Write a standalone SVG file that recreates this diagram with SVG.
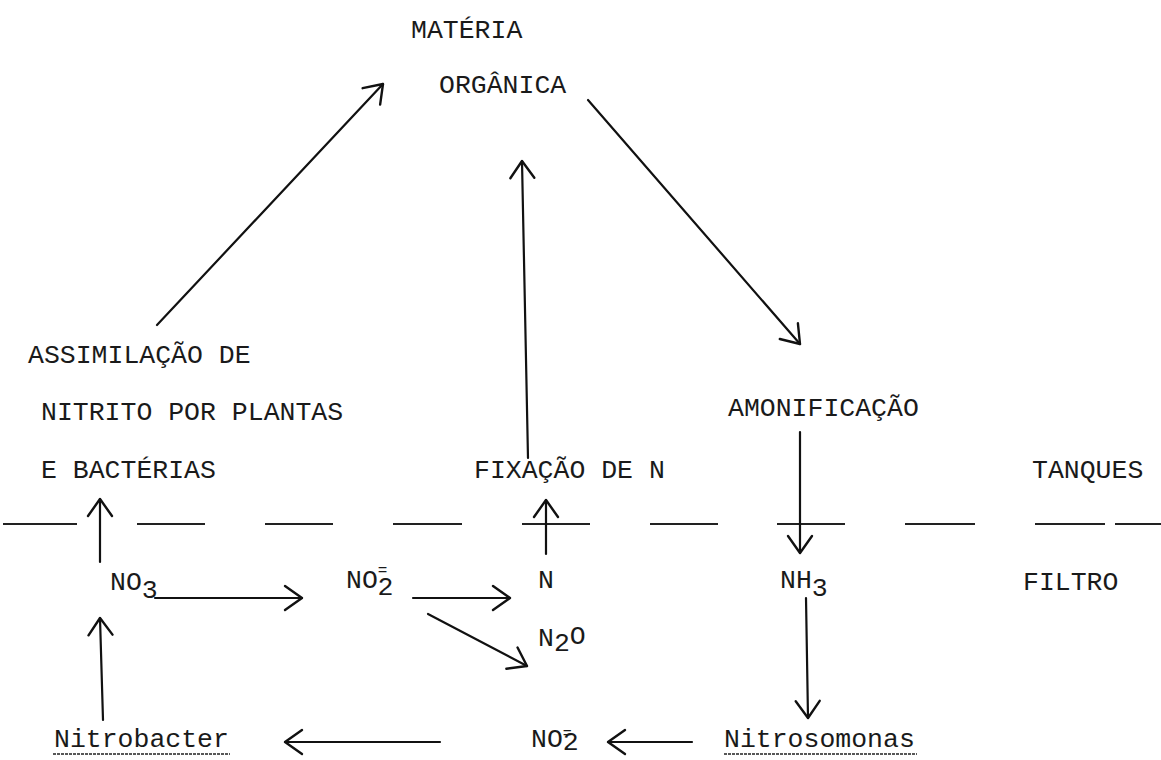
<svg xmlns="http://www.w3.org/2000/svg" width="1161" height="760" viewBox="0 0 1161 760">
<defs>
<style>
.t{font-family:"Liberation Mono","DejaVu Sans Mono",monospace;font-size:26.5px;fill:#1a1a1a}
.c{stroke:#111;stroke-width:2.2;fill:none;stroke-linecap:round}
.d{stroke:#222;stroke-width:2;fill:none}
.u{stroke:#222;stroke-width:1.6;stroke-dasharray:3 1;fill:none}
</style>
<marker id="ah" markerUnits="userSpaceOnUse" markerWidth="26" markerHeight="30" refX="19" refY="14" orient="auto" viewBox="0 0 26 30">
<path d="M2,2 L19,14 L2,26" fill="none" stroke="#111" stroke-width="2.4" stroke-linecap="round" stroke-linejoin="round"/>
</marker>
</defs>
<rect width="1161" height="760" fill="#fff"/>

<g id="materia"><text class="t" x="411" y="38">MATÉRIA</text><text class="t" x="439" y="93">ORGÂNICA</text></g>
<g id="assimilacao"><text class="t" x="28" y="363">ASSIMILAÇÃO DE</text><text class="t" x="41" y="420">NITRITO POR PLANTAS</text><text class="t" x="41" y="478">E BACTÉRIAS</text></g>
<g id="fixacao"><text class="t" x="474" y="478">FIXAÇÃO DE N</text></g>
<g id="amonificacao"><text class="t" x="728" y="416">AMONIFICAÇÃO</text></g>
<g id="tanques"><text class="t" x="1032" y="478">TANQUES</text></g>
<g id="filtro"><text class="t" x="1023" y="590">FILTRO</text></g>
<g id="no3"><text class="t" x="110" y="590">NO<tspan dy="8">3</tspan></text></g>
<g id="no2a"><text class="t" x="346" y="588">NO<tspan dy="-13" style="font-size:16px">=</tspan><tspan dx="-10" dy="20">2</tspan></text></g>
<g id="n"><text class="t" x="538" y="588">N</text></g>
<g id="nh3"><text class="t" x="780" y="588">NH<tspan dy="8">3</tspan></text></g>
<g id="n2o"><text class="t" x="538" y="646">N<tspan dy="5">2</tspan><tspan dy="-7">O</tspan></text></g>
<g id="nitrobacter"><text class="t" x="54" y="747">Nitrobacter</text><line class="u" x1="53" y1="754" x2="230" y2="754"/></g>
<g id="no2b"><text class="t" x="531" y="747">NO<tspan dy="-9" style="font-size:15px">=</tspan><tspan dx="-9" dy="12">2</tspan></text></g>
<g id="nitrosomonas"><text class="t" x="724" y="747">Nitrosomonas</text><line class="u" x1="724" y1="754" x2="917" y2="754"/></g>

<g id="boundary">
<line class="d" x1="3" y1="524" x2="77" y2="524"/>
<line class="d" x1="137" y1="524" x2="205" y2="524"/>
<line class="d" x1="265" y1="524" x2="333" y2="524"/>
<line class="d" x1="393" y1="524" x2="462" y2="524"/>
<line class="d" x1="522" y1="524" x2="590" y2="524"/>
<line class="d" x1="650" y1="524" x2="718" y2="524"/>
<line class="d" x1="777" y1="524" x2="845" y2="524"/>
<line class="d" x1="905" y1="524" x2="975" y2="524"/>
<line class="d" x1="1035" y1="524" x2="1105" y2="524"/>
<line class="d" x1="1115" y1="524" x2="1161" y2="524"/>
</g>

<g id="connectors">
<line class="c" x1="157" y1="325" x2="383" y2="84" marker-end="url(#ah)"/>
<line class="c" x1="528" y1="458" x2="522" y2="161" marker-end="url(#ah)"/>
<line class="c" x1="588" y1="100" x2="800" y2="344" marker-end="url(#ah)"/>
<line class="c" x1="100" y1="562" x2="100" y2="499" marker-end="url(#ah)"/>
<line class="c" x1="103" y1="720" x2="100" y2="618" marker-end="url(#ah)"/>
<line class="c" x1="155" y1="598" x2="302" y2="598" marker-end="url(#ah)"/>
<line class="c" x1="413" y1="598" x2="510" y2="598" marker-end="url(#ah)"/>
<line class="c" x1="428" y1="614" x2="527" y2="666" marker-end="url(#ah)"/>
<line class="c" x1="546" y1="554" x2="546" y2="500" marker-end="url(#ah)"/>
<line class="c" x1="800" y1="432" x2="800" y2="553" marker-end="url(#ah)"/>
<line class="c" x1="806" y1="598" x2="808" y2="718" marker-end="url(#ah)"/>
<line class="c" x1="692" y1="742" x2="608" y2="742" marker-end="url(#ah)"/>
<line class="c" x1="440" y1="742" x2="285" y2="742" marker-end="url(#ah)"/>
</g>
</svg>
